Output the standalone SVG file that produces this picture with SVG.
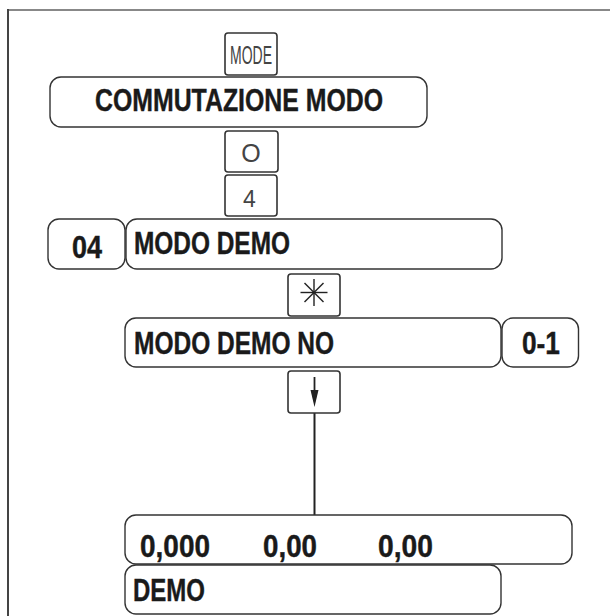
<svg xmlns="http://www.w3.org/2000/svg" width="610" height="616" viewBox="0 0 610 616">
<style>
.box{fill:#fff;stroke:#333;stroke-width:1.4}
.key{fill:#fff;stroke:#333;stroke-width:1.6}
.t{font-family:"Liberation Sans",Arial,sans-serif;font-weight:bold;font-size:31px;fill:#1a1a1a;stroke:#1a1a1a;stroke-width:0.4}
.k{font-family:"Liberation Sans",Arial,sans-serif;font-weight:normal;fill:#444}
.c{stroke:#222;stroke-width:2;fill:none}
</style>
<rect x="0" y="0" width="610" height="616" fill="#fff"/>
<g id="frame">
<line x1="8" y1="10" x2="610" y2="10" stroke="#888" stroke-width="2"/>
<line x1="8" y1="9" x2="8" y2="616" stroke="#444" stroke-width="2"/>
</g>
<g id="connectors">
<line class="c" x1="314.5" y1="413" x2="314.5" y2="515"/>
</g>
<g id="key-mode">
<rect class="key" x="225" y="33" width="52" height="42" rx="3"/>
<text class="k" x="230" y="64" font-size="26" textLength="42" lengthAdjust="spacingAndGlyphs">MODE</text>
</g>
<g id="commutazione">
<rect class="box" x="50" y="77" width="377" height="50" rx="11"/>
<text class="t" x="95" y="111" font-size="30" textLength="288" lengthAdjust="spacingAndGlyphs">COMMUTAZIONE MODO</text>
</g>
<g id="key-0">
<rect class="key" x="225" y="131" width="53" height="41" rx="3"/>
<text class="k" x="251" y="162" font-size="25" text-anchor="middle">O</text>
</g>
<g id="key-4">
<rect class="key" x="225" y="175" width="52" height="41" rx="3"/>
<text class="k" x="249.5" y="206.5" font-size="23" text-anchor="middle">4</text>
</g>
<g id="code-04">
<rect class="box" x="48" y="219" width="77" height="50" rx="11"/>
<text class="t" x="72" y="257.5" font-size="32" textLength="30" lengthAdjust="spacingAndGlyphs">04</text>
</g>
<g id="modo-demo">
<rect class="box" x="126" y="219" width="376" height="50" rx="11"/>
<text class="t" x="134" y="254" font-size="32" textLength="156" lengthAdjust="spacingAndGlyphs">MODO DEMO</text>
</g>
<g id="key-star">
<rect class="key" x="288" y="274" width="52" height="42" rx="3"/>
<g stroke="#222" stroke-width="1.4">
<line x1="314" y1="279" x2="314" y2="306"/>
<line x1="300.5" y1="292.5" x2="327.5" y2="292.5"/>
<line x1="304.5" y1="283" x2="323.5" y2="302"/>
<line x1="323.5" y1="283" x2="304.5" y2="302"/>
</g>
</g>
<g id="modo-demo-no">
<rect class="box" x="125" y="318" width="376" height="49" rx="11"/>
<text class="t" x="134" y="354" textLength="200" lengthAdjust="spacingAndGlyphs">MODO DEMO NO</text>
</g>
<g id="range-01">
<rect class="box" x="502" y="318" width="76.5" height="49" rx="11"/>
<text class="t" x="522" y="354" textLength="38" lengthAdjust="spacingAndGlyphs">0-1</text>
</g>
<g id="key-down">
<rect class="key" x="288" y="371" width="52" height="42" rx="3"/>
<line x1="314.5" y1="377" x2="314.5" y2="392" stroke="#222" stroke-width="1.8"/>
<polygon points="310.5,390 318.5,390 314.5,407" fill="#222"/>
</g>
<g id="display-values">
<rect class="box" x="125" y="515" width="447" height="49" rx="11"/>
<text class="t" x="140" y="557" font-size="28" textLength="70" lengthAdjust="spacingAndGlyphs">0,000</text>
<text class="t" x="263" y="557" font-size="28" textLength="54" lengthAdjust="spacingAndGlyphs">0,00</text>
<text class="t" x="378" y="557" font-size="28" textLength="55" lengthAdjust="spacingAndGlyphs">0,00</text>
</g>
<g id="display-demo">
<rect class="box" x="125" y="565" width="376" height="49" rx="11"/>
<text class="t" x="133" y="601" textLength="72" lengthAdjust="spacingAndGlyphs">DEMO</text>
</g>
</svg>
